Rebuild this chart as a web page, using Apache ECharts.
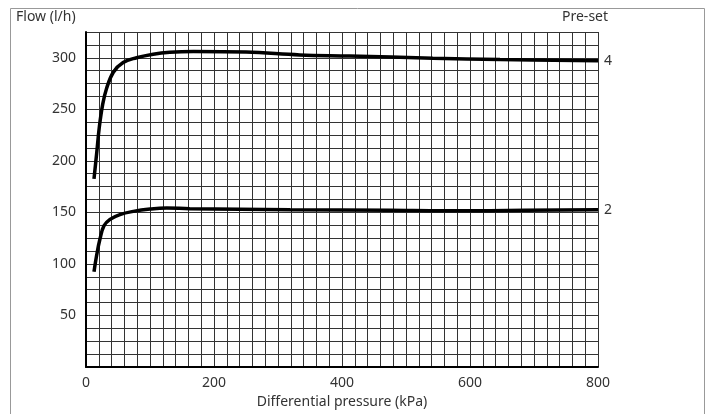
<!DOCTYPE html>
<html><head><meta charset="utf-8">
<script src="https://cdn.jsdelivr.net/npm/echarts@6/dist/echarts.min.js"></script>
<style>html,body{margin:0;padding:0;background:#fff}#c{width:711px;height:414px}</style>
</head><body><div id="c"></div>
<script>
const preset4X = [12.5, 16.7, 20.8, 26, 32, 42.7, 58, 79, 105, 131, 168, 250, 334, 412, 542, 647, 800];
const preset4Y = [182.5, 207.5, 232.7, 254.6, 270, 286, 295.4, 300, 303.5, 305.3, 306, 305.5, 302.8, 301.7, 299.6, 298.3, 297];
const preset2X = [12.5, 16.7, 21.9, 28, 37.5, 53, 74, 100, 126, 162, 319, 475, 560, 631, 800];
const preset2Y = [92.3, 108.6, 124.4, 136.9, 143.2, 147.9, 151, 153.2, 154.2, 153.6, 152.6, 152, 151.5, 151.7, 152.6];
const xLabels = [0, 200, 400, 600, 800];
const yLabels = [50, 100, 150, 200, 250, 300];
const seriesNames = ['4', '2'];

const font = 'Noto Sans';
const chart = echarts.init(document.getElementById('c'), null, {renderer: 'canvas'});
const zip = (xs, ys) => xs.map((x, i) => [x, ys[i]]);
const lineSeries = (name, xs, ys) => ({
  type: 'line', name: name, data: zip(xs, ys), smooth: 0.4, symbol: 'none',
  lineStyle: {color: '#000', width: 3.5},
  endLabel: {show: true, formatter: name, color: '#333', fontSize: 14, fontFamily: font, distance: 6},
  z: 5
});
chart.setOption({
  animation: false,
  grid: {left: 86, right: 113, top: 32, bottom: 37},
  xAxis: {
    type: 'value', min: 0, max: 800, interval: 20,
    axisLine: {show: true, onZero: false, lineStyle: {color: '#000', width: 2}},
    axisTick: {show: false},
    splitLine: {show: true, lineStyle: {color: '#333', width: 1}},
    axisLabel: {color: '#333', fontSize: 14, fontFamily: font, margin: 9,
      formatter: v => xLabels.includes(v) ? String(v) : ''},
    name: 'Differential pressure (kPa)', nameLocation: 'middle', nameGap: 28,
    nameTextStyle: {color: '#333', fontSize: 14, fontFamily: font}
  },
  yAxis: {
    type: 'value', min: 0, max: 325, interval: 12.5,
    axisLine: {show: true, lineStyle: {color: '#000', width: 2}},
    axisTick: {show: false},
    splitLine: {show: true, lineStyle: {color: '#333', width: 1}},
    axisLabel: {color: '#333', fontSize: 14, fontFamily: font, margin: 10, padding: [4, 0, 0, 0],
      formatter: v => yLabels.includes(v) ? String(v) : ''}
  },
  graphic: [
    {type: 'rect', shape: {x: 10.5, y: 8.5, width: 694, height: 420}, style: {fill: 'none', stroke: '#999', lineWidth: 1}},
    {type: 'text', left: 16, top: 10, style: {text: 'Flow (l/h)', fill: '#333', fontSize: 14, fontFamily: font}},
    {type: 'text', left: 562, top: 10, style: {text: 'Pre-set', fill: '#333', fontSize: 14, fontFamily: font}}
  ],
  series: [
    lineSeries(seriesNames[0], preset4X, preset4Y),
    lineSeries(seriesNames[1], preset2X, preset2Y)
  ]
});
</script></body></html>
